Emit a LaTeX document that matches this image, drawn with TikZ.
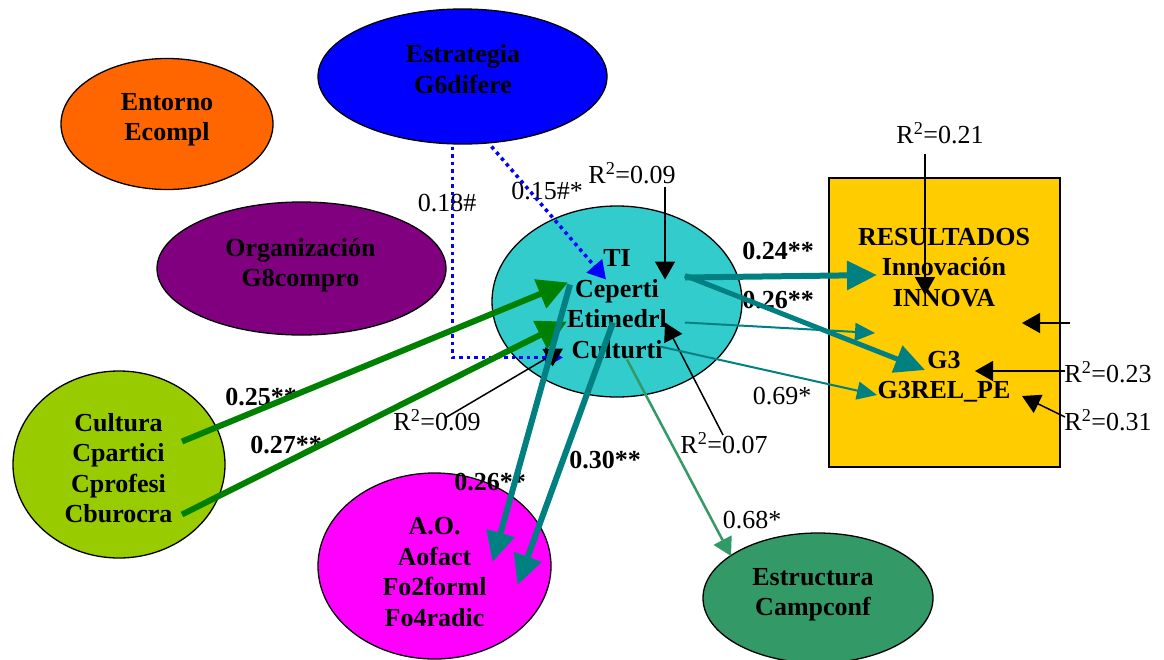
\documentclass[tikz,border=0pt]{standalone}
\usepackage{fontspec}
\setmainfont{Liberation Serif}
\usetikzlibrary{shapes.geometric,arrows.meta}

\definecolor{entornocol}{HTML}{FF6600}
\definecolor{estracol}{HTML}{0000FF}
\definecolor{orgcol}{HTML}{800080}
\definecolor{ticol}{HTML}{33CCCC}
\definecolor{culcol}{HTML}{99CC00}
\definecolor{aocol}{HTML}{FF00FF}
\definecolor{estrucol}{HTML}{339966}
\definecolor{rescol}{HTML}{FFCC00}
\definecolor{greencol}{HTML}{008000}
\definecolor{tealcol}{HTML}{008080}

\begin{document}
\begin{tikzpicture}[x=1pt,y=-1pt,
    blob/.style={ellipse,draw=black,line width=1.3pt,inner sep=0pt},
    vartext/.style={font=\fontsize{26}{30.5}\selectfont\bfseries,align=center,text depth=0pt,inner sep=0pt},
    coef/.style={font=\fontsize{26}{30.5}\selectfont,inner sep=0pt,text depth=0pt},
    bcoef/.style={font=\fontsize{26}{30.5}\selectfont\bfseries,inner sep=0pt,text depth=0pt},
    greenarrow/.style={draw=greencol,line width=6pt,-{Triangle[length=30pt,width=30pt]}},
    tealthick/.style={draw=tealcol,line width=6pt,-{Triangle[length=30pt,width=28pt]}},
    tealthin/.style={draw=tealcol,line width=2pt,-{Triangle[length=20pt,width=18pt]}},
    greenthin/.style={draw=estrucol,line width=2.5pt,-{Triangle[length=18pt,width=20pt]}},
    blackarrow/.style={draw=black,line width=1.5pt,-{Triangle[length=18pt,width=20pt]}},
    dotblue/.style={draw=estracol,line width=3.5pt,dash pattern=on 3.5pt off 4pt,-{Triangle[length=18pt,width=20pt]}}]
  \useasboundingbox (0,0) rectangle (1164,659);

  % constructs
  \node[blob,fill=entornocol,minimum width=212pt,minimum height=131pt] (entorno) at (167,124) {};
  \node[blob,fill=estracol,minimum width=289pt,minimum height=135pt] (estrategia) at (462.5,76.5) {};
  \node[blob,fill=orgcol,minimum width=289pt,minimum height=133pt] (organizacion) at (301.5,268.5) {};
  \node[blob,fill=ticol,minimum width=250pt,minimum height=191pt] (ti) at (617,301.5) {};
  \node[blob,fill=culcol,minimum width=212pt,minimum height=187pt] (cultura) at (119,464.5) {};
  \node[blob,fill=aocol,minimum width=233pt,minimum height=186pt] (ao) at (434.5,566) {};
  \node[blob,fill=estrucol,minimum width=230pt,minimum height=130pt] (estructura) at (818,598) {};
  \node[draw=black,line width=1.3pt,fill=rescol,minimum width=231pt,minimum height=289pt,inner sep=0pt] (resultados) at (944.5,322.5) {};

  \node[vartext] (entornotext) at (167,117) {Entorno\\Ecompl};
  \node[vartext] (estrategiatext) at (463,69) {Estrategia\\G6difere};
  \node[vartext] (organizaciontext) at (300.5,262.5) {Organización\\G8compro};
  \node[vartext] (titext) at (617,304) {TI\\Ceperti\\Etimedrl\\Culturti};
  \node[vartext] (culturatext) at (118.5,468) {Cultura\\Cpartici\\Cprofesi\\Cburocra};
  \node[vartext] (aotext) at (434.5,572) {A.O.\\Aofact\\Fo2forml\\Fo4radic};
  \node[vartext] (estructuratext) at (813,592) {Estructura\\Campconf};
  \node[vartext] (innova) at (944,267) {RESULTADOS\\Innovación\\INNOVA};
  \node[vartext] (g3) at (944,375) {G3\\G3REL\_PE};

  % coefficients
  \node[coef] (c18) at (447,203) {0.18\#};
  \node[coef] (c15) at (547,191) {0.15\#*};
  \node[bcoef] (c25) at (261,397) {0.25**};
  \node[bcoef] (c27) at (286,445) {0.27**};
  \node[bcoef] (c26ao) at (490,482) {0.26**};
  \node[bcoef] (c30) at (605,460) {0.30**};
  \node[coef] (c68) at (752,520) {0.68*};
  \node[bcoef] (c24) at (778,251) {0.24**};
  \node[bcoef] (c26res) at (778,300) {0.26**};
  \node[coef] (c69) at (782,396) {0.69*};
  \node[coef] (r2ti) at (632,173) {R\textsuperscript{2}=0.09};
  \node[coef] (r2cu) at (437,420) {R\textsuperscript{2}=0.09};
  \node[coef] (r2ao) at (724,443) {R\textsuperscript{2}=0.07};
  \node[coef] (r2in) at (940,133) {R\textsuperscript{2}=0.21};
  \node[coef] (r2g3) at (1108,372) {R\textsuperscript{2}=0.23};
  \node[coef] (r2pe) at (1108,420) {R\textsuperscript{2}=0.31};

  \begin{scope}
    % paths into TI
    \draw[dotblue] ([shift={(-10,70)}]estrategia.center) |- ([shift={(-54,56)}]ti.center);
    \draw[dotblue] ([shift={(29,70)}]estrategia.center) -- ([shift={(-11,-22)}]ti.center);
    \draw[greenarrow] ([shift={(63,-23)}]cultura.center) -- ([shift={(-49,-19)}]ti.center);
    \draw[greenarrow] ([shift={(63,50)}]cultura.center) -- ([shift={(-50,20)}]ti.center);
    \draw[blackarrow] ([shift={(33,14)}]r2ti.center) -- ([shift={(48,-22)}]ti.center);
    \draw[blackarrow] ([shift={(8,-2)}]r2cu.center) -- ([shift={(-54,47)}]ti.center);
    \draw[blackarrow] ([shift={(-1,-8)}]r2ao.center) -- ([shift={(48,21)}]ti.center);
    % paths out of TI
    \draw[tealthick] ([shift={(-47,-17)}]ti.center) -- ([shift={(58,-4)}]ao.center);
    \draw[tealthick] ([shift={(-4,21)}]ti.center) -- ([shift={(83,19)}]ao.center);
    \draw[greenthin] ([shift={(10,58)}]ti.center) -- ([shift={(-87,-42)}]estructura.center);
    \draw[tealthick] ([shift={(68,-24)}]ti.center) -- ([shift={(-67,8)}]innova.center);
    \draw[tealthick,line width=5pt] ([shift={(68,-26)}]ti.center) -- ([shift={(-19,-5)}]g3.center);
    \draw[tealthin] ([shift={(68,21)}]ti.center) -- ([shift={(-69.5,10.5)}]resultados.center);
    \draw[tealthin] ([shift={(43,45)}]ti.center) -- ([shift={(-67,20)}]g3.center);
    % explained variance of results
    \draw[blackarrow] ([shift={(-15,21)}]r2in.center) -- ([shift={(-19,28)}]innova.center);
    \draw[blackarrow] ([shift={(125.5,0.5)}]resultados.center) -- ([shift={(77.5,0.5)}]resultados.center);
    \draw[blackarrow] ([shift={(-43,-1)}]r2g3.center) -- ([shift={(31,-4)}]g3.center);
    \draw[blackarrow] ([shift={(-43,-3)}]r2pe.center) -- ([shift={(78,21)}]g3.center);
  \end{scope}
\end{tikzpicture}
\end{document}
